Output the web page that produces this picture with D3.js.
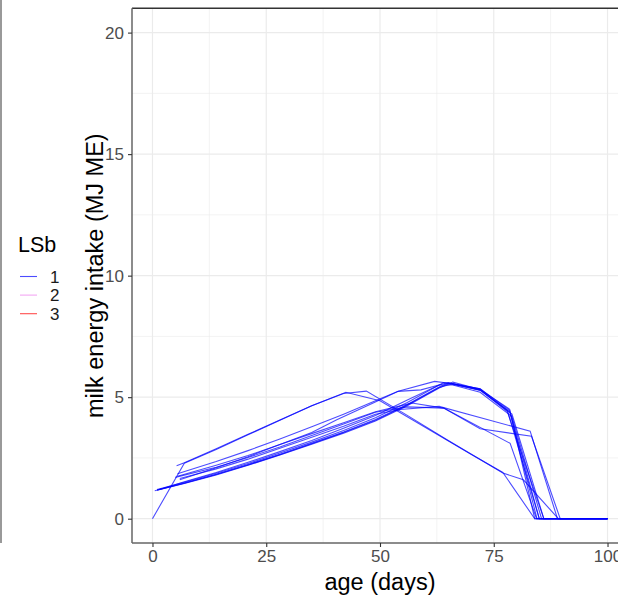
<!doctype html>
<html>
<head>
<style type="text/css">
body { margin: 0; background: white; }
text { font-family: "Liberation Sans", Arial, sans-serif; }
.tick-label { fill: #4d4d4d; font-size: 17px; }
.axis-title { fill: black; font-size: 23.5px; }
</style>
</head>
<body>
<svg width="618" height="597"></svg>
<script src="https://cdnjs.cloudflare.com/ajax/libs/d3/7.8.5/d3.min.js"></script>
<script>
// milk energy intake per calf, [age in days, MJ ME]
var calfA = [[0,0],[7,2.28],[14,2.85],[21,3.45],[28,4.05],[35,4.65],[42.5,5.2],[50,4.85],[60,3.75],[70,2.65],[77,1.9],[84,0],[100,0]];
var calfB = [[5.3,2.18],[7,2.3],[14,2.88],[21,3.47],[28,4.06],[35,4.65],[42,5.15],[47,5.25],[56,4.25],[65,3.22],[77,1.88],[81.5,1.6],[89.2,0],[100,0]];
var calfC1 = [[1,1.17],[7,1.45],[14,1.8],[21,2.2],[28,2.62],[35,3.06],[42,3.52],[49,4.02],[56,4.65],[63,5.38],[66,5.62],[72,5.32],[78.5,4.5],[84,0],[100,0]];
var calfC2 = [[0.5,1.15],[7,1.47],[14,1.83],[21,2.23],[28,2.65],[35,3.1],[42,3.57],[49,4.08],[56,4.7],[63,5.42],[65,5.58],[72,5.35],[78,4.45],[85,0],[100,0]];
var calfC3 = [[1,1.2],[7,1.5],[14,1.87],[21,2.27],[28,2.7],[35,3.15],[42,3.63],[49,4.15],[56,4.78],[64,5.6],[72,5.3],[79,4.3],[86,0],[100,0]];
var calfC4 = [[1,1.18],[7,1.46],[14,1.82],[21,2.21],[28,2.63],[35,3.08],[42,3.55],[49,4.05],[56,4.68],[63,5.4],[66,5.55],[72,5.28],[78.5,4.4],[84.5,0],[100,0]];
var calfC5 = [[1.5,1.2],[7,1.52],[14,1.9],[21,2.32],[28,2.76],[35,3.22],[42,3.72],[49,4.25],[56,4.88],[63,5.5],[66,5.5],[72,5.2],[79,4.2],[85.5,0],[100,0]];
var calfM1 = [[5.5,1.85],[14,2.35],[21,2.8],[28,3.28],[35,3.78],[42,4.3],[49,4.85],[54,5.24],[62,5.65],[66,5.55],[72,5.35],[78.5,4.45],[85,0],[100,0]];
var calfM2 = [[6,1.6],[14,2.1],[21,2.55],[28,3.05],[35,3.55],[40.5,4.07],[48.5,4.76],[54,5.24],[59,5.3],[65,5.6],[72,5.3],[78,4.4],[86,0],[100,0]];
var calfM3 = [[5.5,1.75],[14,2.2],[21,2.6],[28,3.05],[35,3.5],[42,3.95],[49,4.4],[54,4.62],[57,4.76],[64,4.55],[78.6,3.1],[84.4,0],[100,0]];
var calfM4 = [[6,1.65],[14,2.05],[21,2.45],[28,2.9],[35,3.35],[42,3.8],[49,4.3],[54.4,4.49],[63,4.62],[83,3.6],[89,0],[100,0]];
var calfM5 = [[5,1.7],[14,2.12],[21,2.52],[28,2.95],[35,3.42],[42,3.9],[49,4.38],[56,4.6],[64,4.55],[72,3.7],[83.3,3.39],[89.6,0],[100,0]];

var calves = [calfA, calfB, calfC1, calfC2, calfC3, calfC4, calfC5, calfM1, calfM2, calfM3, calfM4, calfM5];
var calfGroup = ["1","1","1","1","1","1","1","1","1","1","1","1"];

var lsbLevels = ["1", "2", "3"];
var lsbColours = ["#0000ff", "#ee82ee", "#ff0000"];

var xTicks = [0, 25, 50, 75, 100];
var yTicks = [0, 5, 10, 15, 20];
var xMinor = [12.5, 37.5, 62.5, 87.5];
var yMinor = [2.5, 7.5, 12.5, 17.5];

var svg = d3.select("svg");

var panel = {left: 132, top: 8.3, bottom: 543, right: 628};

var x = d3.scaleLinear().domain([-4.5, 104.5]).range([panel.left, panel.right]);
var y = d3.scaleLinear().domain([-1, 21]).range([panel.bottom, panel.top]);
var colour = d3.scaleOrdinal().domain(lsbLevels).range(lsbColours);

// grid
var grid = svg.append("g");
grid.selectAll(".xminor").data(xMinor).enter().append("line")
  .attr("x1", d => x(d)).attr("x2", d => x(d))
  .attr("y1", panel.top).attr("y2", panel.bottom)
  .attr("stroke", "#ebebeb").attr("stroke-width", 0.6);
grid.selectAll(".yminor").data(yMinor).enter().append("line")
  .attr("x1", panel.left).attr("x2", panel.right)
  .attr("y1", d => y(d)).attr("y2", d => y(d))
  .attr("stroke", "#ebebeb").attr("stroke-width", 0.6);
grid.selectAll(".xmajor").data(xTicks).enter().append("line")
  .attr("x1", d => x(d)).attr("x2", d => x(d))
  .attr("y1", panel.top).attr("y2", panel.bottom)
  .attr("stroke", "#ebebeb").attr("stroke-width", 1.2);
grid.selectAll(".ymajor").data(yTicks).enter().append("line")
  .attr("x1", panel.left).attr("x2", panel.right)
  .attr("y1", d => y(d)).attr("y2", d => y(d))
  .attr("stroke", "#ebebeb").attr("stroke-width", 1.2);

// lines
var line = d3.line().x(d => x(d[0])).y(d => y(d[1]));
svg.append("g").selectAll("path").data(calves).enter().append("path")
  .attr("d", line)
  .attr("fill", "none")
  .attr("stroke", (d, i) => colour(calfGroup[i]))
  .attr("stroke-opacity", 0.7)
  .attr("stroke-width", 1.1);

// panel border
svg.append("line").attr("x1", panel.left).attr("x2", panel.right)
  .attr("y1", panel.top).attr("y2", panel.top)
  .attr("stroke", "#333").attr("stroke-width", 1.5);
svg.append("line").attr("x1", panel.left).attr("x2", panel.right)
  .attr("y1", panel.bottom).attr("y2", panel.bottom)
  .attr("stroke", "#666").attr("stroke-width", 1.5);
svg.append("line").attr("x1", panel.left).attr("x2", panel.left)
  .attr("y1", panel.top).attr("y2", panel.bottom)
  .attr("stroke", "#666").attr("stroke-width", 1.5);

// axes
var yAxis = svg.append("g").attr("transform", "translate(" + panel.left + ",0)")
  .call(d3.axisLeft(y).tickValues(yTicks).tickSize(4).tickPadding(4));
var xAxis = svg.append("g").attr("transform", "translate(0," + panel.bottom + ")")
  .call(d3.axisBottom(x).tickValues(xTicks).tickSize(4).tickPadding(3));
[xAxis, yAxis].forEach(function(a) {
  a.select(".domain").remove();
  a.selectAll(".tick line").attr("stroke", "#333").attr("stroke-width", 1.1);
  a.selectAll(".tick text").attr("class", "tick-label").attr("font-size", null).attr("font-family", null);
});

svg.append("text").attr("class", "axis-title")
  .attr("x", (panel.left + panel.right) / 2).attr("y", 590)
  .attr("text-anchor", "middle").text("age (days)");
svg.append("text").attr("class", "axis-title")
  .attr("transform", "translate(103," + (panel.top + panel.bottom) / 2 + ") rotate(-90)")
  .attr("text-anchor", "middle").text("milk energy intake (MJ ME)");

// legend
svg.append("text").attr("class", "axis-title")
  .attr("x", 18).attr("y", 252).style("font-size", "21.5px").text("LSb");
var keys = svg.append("g").selectAll("g").data(lsbLevels).enter().append("g")
  .attr("transform", (d, i) => "translate(0," + (276.5 + i * 18.6) + ")");
keys.append("line").attr("x1", 20).attr("x2", 37)
  .attr("stroke", d => colour(d)).attr("stroke-opacity", 0.7).attr("stroke-width", 1.1);
keys.append("text").attr("x", 50).attr("y", 6)
  .attr("fill", "#1a1a1a").attr("font-size", "17px").text(d => d);

// left edge rule
svg.append("line").attr("x1", 1).attr("x2", 1).attr("y1", 0).attr("y2", 543)
  .attr("stroke", "#555").attr("stroke-width", 1.2);
</script>
</body>
</html>
